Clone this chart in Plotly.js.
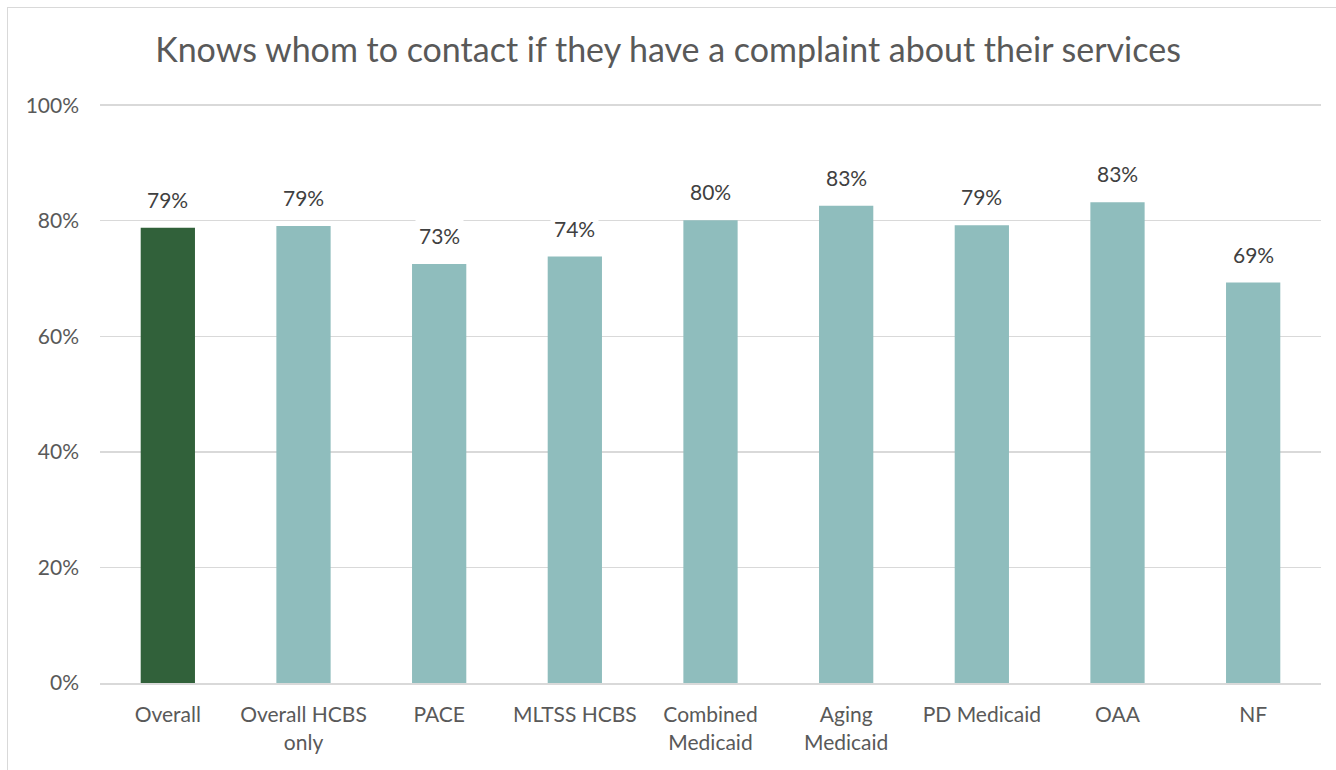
<!DOCTYPE html>
<html><head><meta charset="utf-8">
<script src="https://cdn.plot.ly/plotly-3.0.1.min.js"></script>
<style>
html,body{margin:0;padding:0;background:#fff;}
#wrap{position:absolute;left:7px;top:7px;width:1340px;height:770px;border:1px solid #d9d9d9;box-sizing:border-box;}
#chart{position:absolute;left:-8px;top:-8px;width:1336px;height:770px;}
</style></head>
<body>
<div id="wrap"><div id="chart"></div></div>
<script>
const categories = ["Overall", "Overall HCBS<br>only", "PACE", "MLTSS HCBS", "Combined<br>Medicaid", "Aging<br>Medicaid", "PD Medicaid", "OAA", "NF"];
const values = [0.788, 0.791, 0.725, 0.738, 0.801, 0.826, 0.792, 0.832, 0.693];
const labels = ["79%", "79%", "73%", "74%", "80%", "83%", "79%", "83%", "69%"];
const colors = ["#31613A", "#8FBDBD", "#8FBDBD", "#8FBDBD", "#8FBDBD", "#8FBDBD", "#8FBDBD", "#8FBDBD", "#8FBDBD"];

const font = "Lato, 'Open Sans', sans-serif";
const annotations = categories.map((c, i) => ({
  x: c, y: values[i], xref: 'x', yref: 'y', text: labels[i], showarrow: false,
  yanchor: 'bottom', yshift: 12, bgcolor: '#ffffff', borderpad: 3,
  font: {family: font, size: 21, color: '#404040'}
}));

Plotly.newPlot('chart', [{
  type: 'bar', x: categories, y: values,
  marker: {color: colors}, width: 0.4, hoverinfo: 'none'
}], {
  width: 1336, height: 770,
  margin: {l: 100, r: 15, t: 104, b: 87},
  paper_bgcolor: 'rgba(0,0,0,0)', plot_bgcolor: '#fff',
  title: {text: 'Knows whom to contact if they have a complaint about their services',
    font: {family: font, size: 34, color: '#595959'}, x: 0.5, xanchor: 'center', y: 0.935, yanchor: 'middle'},
  xaxis: {type: 'category', showgrid: false, showline: true, linecolor: '#d9d9d9', linewidth: 2,
    ticks: '', ticklabelstandoff: 12, tickfont: {family: font, size: 21, color: '#595959'}, fixedrange: true},
  yaxis: {range: [0, 1.002], tickvals: [0, 0.2, 0.4, 0.6, 0.8, 1.0], tickformat: '.0%',
    gridcolor: '#d9d9d9', gridwidth: 1.5, zeroline: false, showline: false, ticks: '', ticklen: 0,
    ticklabelstandoff: 20,
    tickfont: {family: font, size: 21, color: '#595959'}, fixedrange: true, automargin: false},
  annotations: annotations,
  showlegend: false, bargap: 0.6
}, {displayModeBar: false, staticPlot: true});
</script>
</body></html>
